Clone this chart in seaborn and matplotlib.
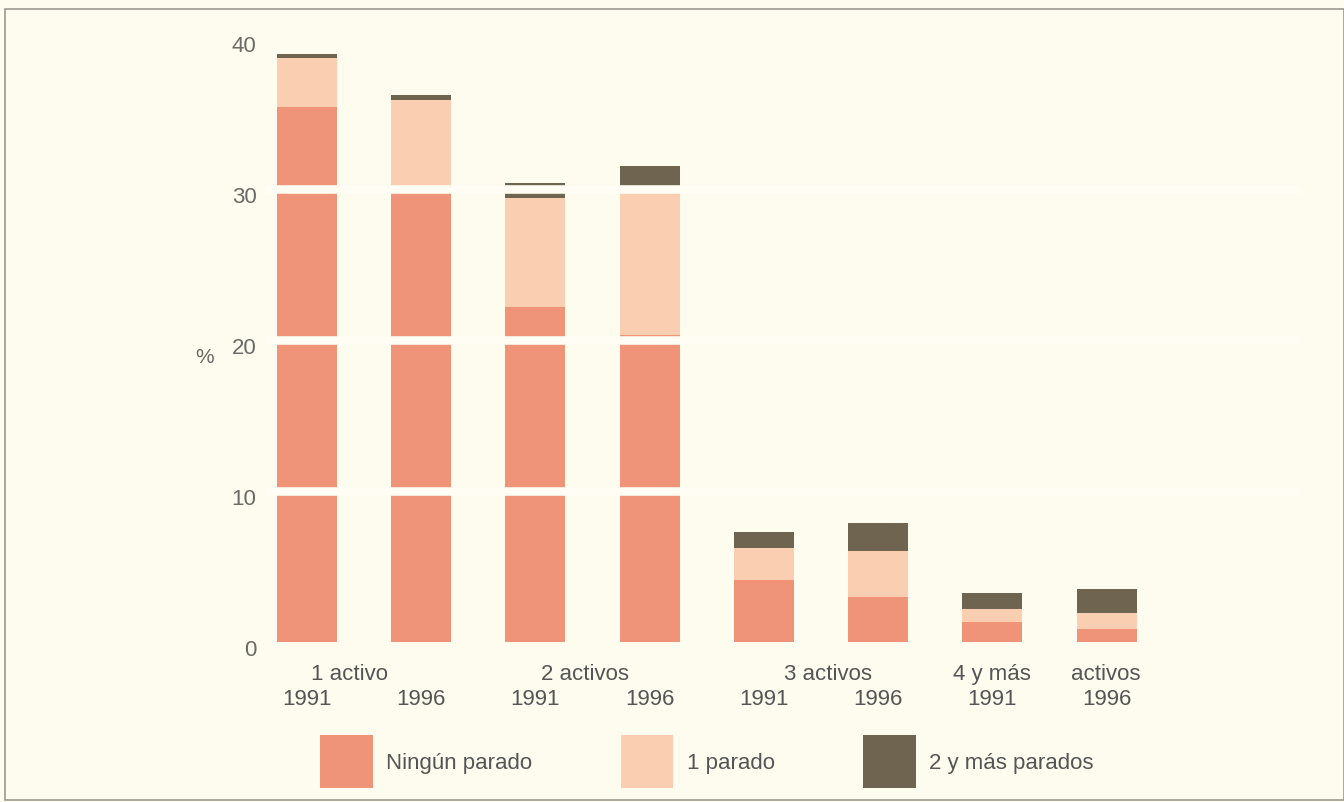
import matplotlib
matplotlib.use("Agg")
from matplotlib import pyplot as plt
from matplotlib import font_manager, transforms
from matplotlib.patches import Rectangle
import pandas as pd
import seaborn as sns

# datos (%)
grupos = ['1 activo', '1 activo', '2 activos', '2 activos',
          '3 activos', '3 activos', '4 y más activos', '4 y más activos']
anios = ['1991', '1996', '1991', '1996', '1991', '1996', '1991', '1996']
ningun_parado = [35.4, 30.0, 22.2, 20.3, 4.1, 3.0, 1.3, 0.85]
un_parado = [3.3, 5.9, 7.2, 9.7, 2.1, 3.0, 0.9, 1.05]
dos_mas_parados = [0.25, 0.3, 1.0, 1.5, 1.1, 1.9, 1.05, 1.6]
series = ['Ningún parado', '1 parado', '2 y más parados']
colores = ['#ef9478', '#f9ceb1', '#6e6450']

etiquetas_grupo = ['1 activo', '2 activos', '3 activos', '4 y más', 'activos']
pos_grupo = [0.37, 2.43, 4.56, 6.0, 6.99]

sns.set_theme(style='white')
plt.rcParams['font.family'] = ['Liberation Sans', 'DejaVu Sans']

# fuente estrecha para el eje x si existe
nombres = {f.name for f in font_manager.fontManager.ttflist}
if 'Liberation Sans Narrow' in nombres:
    fuente_x, tam_x = 'Liberation Sans Narrow', 18
else:
    fuente_x, tam_x = 'Liberation Sans', 16

fondo = '#fefcef'
df = pd.DataFrame({
    'barra': [f'{g} {a}' for g, a in zip(grupos, anios)],
    'n0': ningun_parado,
    'n1': un_parado,
    'n2': dos_mas_parados,
})
df['c1'] = df['n0'] + df['n1']
df['c2'] = df['c1'] + df['n2']
orden = list(df['barra'])

fig = plt.figure(figsize=(13.44, 8.03), dpi=100, facecolor=fondo)
ax = fig.add_axes([0.197, 0.1993, 0.77, 0.7521])
ax.set_facecolor(fondo)

# barras apiladas: se dibujan los acumulados de mayor a menor
for col, color, nombre in zip(['c2', 'c1', 'n0'], colores[::-1], series[::-1]):
    sns.barplot(data=df, x='barra', y=col, order=orden, color=color, width=0.525,
                saturation=1, ax=ax, label=nombre, edgecolor='none', linewidth=0)

for y in [10, 20, 30]:
    ax.axhline(y, color='#fffdf4', lw=6.2, zorder=3)

ax.set_ylim(0, 40)
ax.set_xlim(-0.37, 8.69)
ax.set_yticks([0, 10, 20, 30, 40])
ax.set_yticklabels(['0', '10', '20', '30', '40'], color='#6a6a66', fontsize=16)
ax.set_xticks(range(len(anios)))
ax.set_xticklabels(anios, color='#555555', fontsize=tam_x, family=fuente_x)
ax.tick_params(axis='both', length=0)
ax.tick_params(axis='y', pad=6)
ax.tick_params(axis='x', pad=33)
desplaza = transforms.ScaledTranslation(0, -5 / 100, fig.dpi_scale_trans)
for t in ax.get_yticklabels():
    t.set_transform(t.get_transform() + desplaza)
ax.set_xlabel('')
ax.set_ylabel('')
sns.despine(ax=ax, left=True, bottom=True)

trans = ax.get_xaxis_transform()
for texto, x in zip(etiquetas_grupo, pos_grupo):
    ax.text(x, -0.035, texto, transform=trans, ha='center', va='top',
            fontsize=tam_x, family=fuente_x, color='#555555')

fig.text(0.152, 0.555, '%', fontsize=15, color='#6a6a66', ha='center', va='center')

# leyenda
handles, labels = ax.get_legend_handles_labels()
if ax.legend_:
    ax.legend_.remove()
mapa = dict(zip(labels, handles))
leg = fig.legend([mapa[s] for s in series], series, loc='center', ncol=3,
                 bbox_to_anchor=(0.526, 0.05), frameon=False, fontsize=16,
                 handlelength=2.35, handleheight=3.3, handletextpad=0.6,
                 columnspacing=4.0, labelcolor='#555555')

# marco exterior
fig.patches.append(Rectangle((0.004, 0.003), 0.996, 0.985, transform=fig.transFigure,
                             fill=False, edgecolor='#9a9a92', lw=1.2))

fig.savefig('out.png', dpi=100, facecolor=fondo)
